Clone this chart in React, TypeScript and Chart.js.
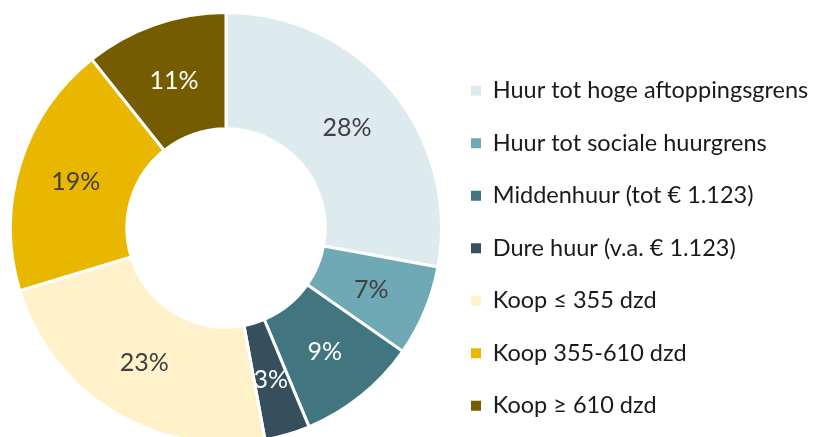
import React, { useEffect, useRef } from "react";
import { Chart, registerables } from "chart.js";

Chart.register(...registerables);

const categories = [
  "Huur tot hoge aftoppingsgrens",
  "Huur tot sociale huurgrens",
  "Middenhuur (tot € 1.123)",
  "Dure huur (v.a. € 1.123)",
  "Koop ≤ 355 dzd",
  "Koop 355-610 dzd",
  "Koop ≥ 610 dzd",
];
const shares = [27.9, 6.8, 9.0, 3.4, 23.2, 19.0, 10.7];
const sliceColors = ["#DDEBEE", "#6FA9B6", "#417681", "#364F5D", "#FFF2CB", "#E9B700", "#765C00"];
const labelColors = ["#404040", "#404040", "#FFFFFF", "#FFFFFF", "#404040", "#404040", "#FFFFFF"];

const FONT = "Lato, 'Open Sans', sans-serif";

const pctLabels = {
  id: "pctLabels",
  afterDatasetsDraw(chart: any) {
    const ctx = chart.ctx;
    const meta = chart.getDatasetMeta(0);
    ctx.save();
    ctx.font = `25px ${FONT}`;
    ctx.textAlign = "center";
    ctx.textBaseline = "middle";
    meta.data.forEach((arc: any, i: number) => {
      const p = arc.getCenterPoint();
      ctx.fillStyle = labelColors[i];
      ctx.fillText(Math.round(shares[i]) + "%", p.x, p.y + 1);
    });
    ctx.restore();
  },
};

export default function App() {
  const ref = useRef<HTMLCanvasElement>(null);
  useEffect(() => {
    document.body.style.margin = "0";
    const defaultGen = (Chart as any).overrides.doughnut.plugins.legend.labels.generateLabels;
    const chart = new Chart(ref.current!, {
      type: "doughnut",
      data: {
        labels: categories,
        datasets: [
          {
            data: shares,
            backgroundColor: sliceColors,
            borderColor: "#FFFFFF",
            borderWidth: 3,
            hoverBorderWidth: 3,
            clip: false,
          },
        ],
      },
      options: {
        responsive: false,
        animation: false,
        cutout: "46%",
        radius: 215.5,
        layout: { padding: { left: 10, top: 9.5, right: 10, bottom: 9.5 } },
        plugins: {
          tooltip: { enabled: false },
          legend: {
            position: "right",
            align: "end",
            maxWidth: 370,
            labels: {
              boxWidth: 10,
              boxHeight: 10,
              padding: 29,
              color: "#1A1A1A",
              font: { family: FONT, size: 23.5 },
              generateLabels: (c: any) =>
                defaultGen(c).map((l: any) => ({ ...l, lineWidth: 0, strokeStyle: "transparent" })),
            },
          },
        },
      } as any,
      plugins: [pctLabels],
    });
    return () => chart.destroy();
  }, []);
  return (
    <div style={{ position: "fixed", left: 0, top: 0, width: 822, height: 437, overflow: "hidden", background: "#fff" }}>
      <canvas ref={ref} width={822} height={456} style={{ display: "block" }} />
    </div>
  );
}
